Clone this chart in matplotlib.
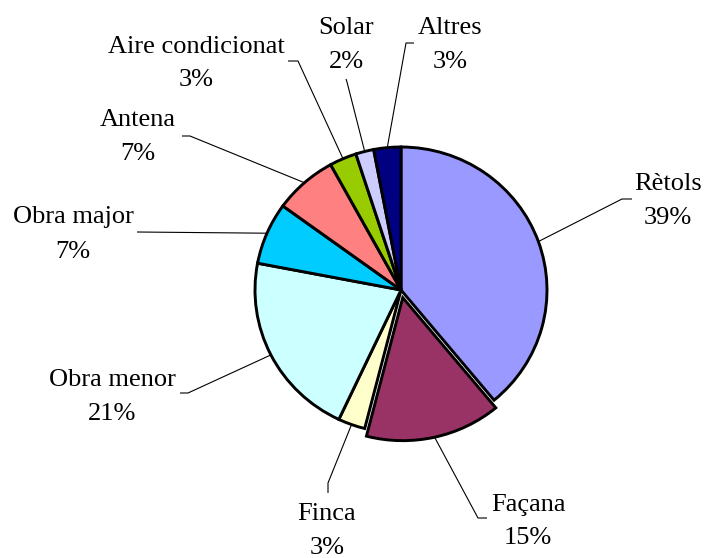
import numpy as np
import matplotlib
matplotlib.use("Agg")
import matplotlib.pyplot as plt

# Shares of requests by type (percent), clockwise from the top
labels = ['Rètols', 'Façana', 'Finca', 'Obra menor', 'Obra major',
          'Antena', 'Aire condicionat', 'Solar', 'Altres']
shares = [39, 15, 3, 21, 7, 7, 3, 2, 3]
colors = ['#9999FF', '#993366', '#FFFFCC', '#CCFFFF', '#00CCFF',
          '#FF8080', '#99CC00', '#CCCCFF', '#000080']
explode = [0, 8, 0, 0, 0, 0, 0, 0, 0]

W, H = 708, 558
CENTER = (401, 290)   # pixel coords, y down
RADIUS = 146
SY = 143 / 146        # the pie is a little flatter than a circle

# label layout in pixels (y down): text centre, elbow of leader, end of leader
text_pos = [(668, 199), (528, 519), (327, 529), (112, 395), (73, 232),
            (138, 135), (196, 61), (346, 42), (450, 43)]
elbows = [(622, 199), (478, 518), (328, 483), (188, 393), (137, 232),
          (190, 136), (298, 61), (347, 82), (406, 43)]
ends = [(632, 199), (487, 518), (328, 493), (180, 393), (137, 232),
        (182, 136), (288, 61), (346, 79), (414, 43)]


def px(x, y):
    return x, (H - y) / SY


fig = plt.figure(figsize=(W / 100, H / 100), dpi=100)
ax = fig.add_axes([0, 0, 1, 1])

wedges, _ = ax.pie(shares, colors=colors, explode=explode, startangle=90,
                   counterclock=False, radius=RADIUS, center=px(*CENTER),
                   wedgeprops=dict(edgecolor='black', linewidth=2.1))
ax.set_xlim(0, W)
ax.set_ylim(0, H / SY)
ax.set_aspect('auto')
ax.axis('off')

font = dict(family='Liberation Serif', fontsize=19, color='black')
for w, name, val, tp, el, en in zip(wedges, labels, shares, text_pos, elbows, ends):
    tm = np.deg2rad((w.theta1 + w.theta2) / 2)
    sx = w.center[0] + w.r * np.cos(tm)
    sy = w.center[1] + w.r * np.sin(tm)
    ex, ey = px(*el)
    nx, ny = px(*en)
    ax.plot([sx, ex, nx], [sy, ey, ny], color='black', linewidth=0.8,
            solid_capstyle='butt', zorder=0)
    cx, cy = tp
    ax.text(*px(cx, cy - 17 + 8.5), name, ha='center', va='baseline', **font)
    ax.text(*px(cx, cy + 17 + 8.5), f'{val}%', ha='center', va='baseline', **font)

plt.savefig('out.png', dpi=100, facecolor='white')
